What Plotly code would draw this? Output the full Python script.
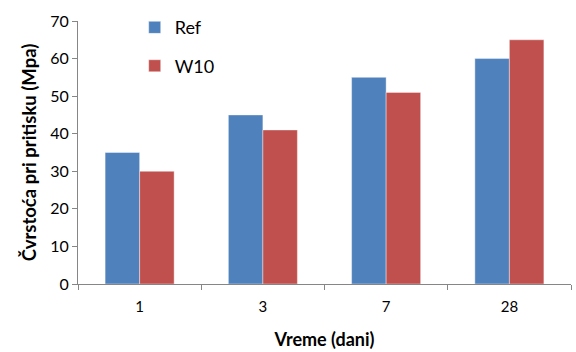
import plotly.graph_objects as go

categories = ["1", "3", "7", "28"]
ref_values = [35, 45, 55, 60]
w10_values = [30, 41, 51, 65]
series_names = ["Ref", "W10"]
y_ticks = [0, 10, 20, 30, 40, 50, 60, 70]

fig = go.Figure()
fig.add_trace(go.Bar(x=categories, y=ref_values, name=series_names[0],
                     marker=dict(color="#4F81BD", line=dict(color="rgba(255,255,255,0.5)", width=0.8)),
                     legendgroup="a"))
fig.add_trace(go.Bar(x=categories, y=w10_values, name=series_names[1],
                     marker=dict(color="#C0504D", line=dict(color="rgba(255,255,255,0.5)", width=0.8)),
                     legendgroup="b"))

axis_color = "#868686"
fig.update_layout(
    width=576, height=352,
    margin=dict(l=78, r=5, t=21, b=68),
    paper_bgcolor="white", plot_bgcolor="white",
    barmode="group", bargap=0.44, bargroupgap=0,
    font=dict(family="Lato, Liberation Sans, sans-serif", color="black"),
    showlegend=True,
    legend=dict(x=0.115, y=1.045, xanchor="left", yanchor="top",
                font=dict(size=18), tracegroupgap=12,
                traceorder="grouped", bgcolor="rgba(0,0,0,0)"),
    xaxis=dict(type="category", showline=True, linecolor=axis_color, linewidth=1,
               ticks="outside", tickson="boundaries", ticklen=5, tickcolor=axis_color,
               tickfont=dict(size=15), showgrid=False, ticklabelstandoff=9,
               title=dict(text="<b>Vreme (dani)</b>", font=dict(size=18), standoff=19)),
    yaxis=dict(range=[0, 70], tickvals=y_ticks, showline=True, linecolor=axis_color, linewidth=1,
               ticks="outside", ticklen=5, tickcolor=axis_color, tickfont=dict(size=16),
               showgrid=False, zeroline=False,
               title=dict(text="<b>Čvrstoća pri pritisku (Mpa)</b>", font=dict(size=18.5), standoff=8)),
)

fig.write_html("out.html")
